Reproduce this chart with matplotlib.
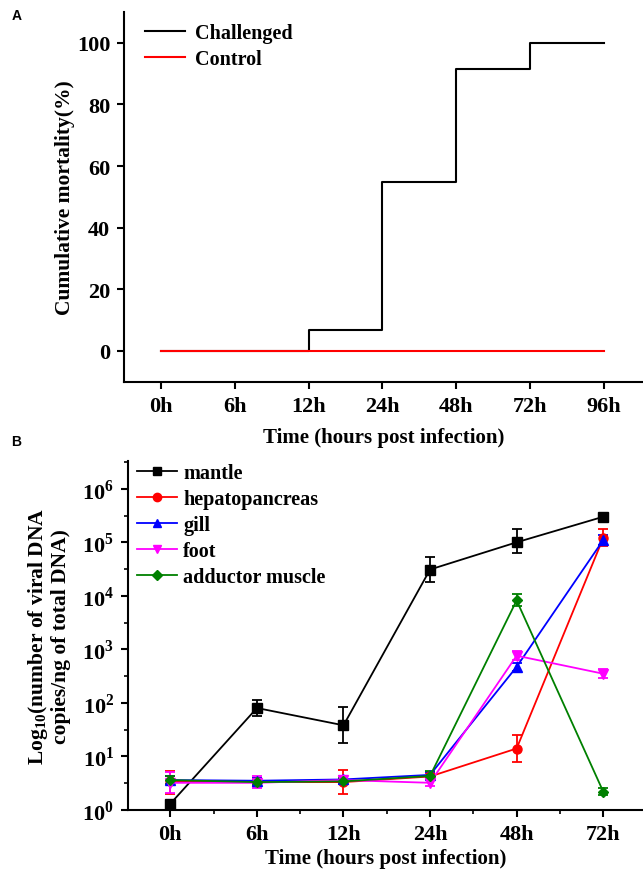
import numpy as np
import matplotlib
matplotlib.use("Agg")
import matplotlib.pyplot as plt
from matplotlib.lines import Line2D
from matplotlib.ticker import FixedLocator, FixedFormatter

plt.rcParams['font.family'] = ['Liberation Serif', 'DejaVu Serif']
plt.rcParams['font.weight'] = 'bold'
plt.rcParams['mathtext.fontset'] = 'custom'
plt.rcParams['mathtext.rm'] = 'Liberation Serif:bold'
plt.rcParams['mathtext.bf'] = 'Liberation Serif:bold'

## Panel A data: cumulative mortality
time_a = ['0h', '6h', '12h', '24h', '48h', '72h', '96h']
challenged = [0, 0, 6.67, 55, 91.67, 100, 100]
control = [0, 0, 0, 0, 0, 0, 0]

## Panel B data: viral DNA copies per ng total DNA
time_b = ['0h', '6h', '12h', '24h', '48h', '72h']
tissues = ['mantle', 'hepatopancreas', 'gill', 'foot', 'adductor muscle']
mantle = [1.3, 80, 38, 31000, 100000, 300000]
mantle_lo = [1.2, 56, 18, 18000, 62000, 280000]
mantle_hi = [1.45, 115, 85, 54000, 180000, 325000]
hepato = [3.4, 3.3, 3.3, 4.2, 14, 120000]
hepato_lo = [2.0, 2.8, 2.0, 3.7, 8, 85000]
hepato_hi = [5.4, 4.0, 5.5, 4.8, 25, 180000]
gill = [3.6, 3.5, 3.7, 4.5, 470, 110000]
gill_lo = [3.0, 3.0, 3.2, 4.0, 390, 90000]
gill_hi = [4.3, 4.0, 4.3, 5.1, 560, 135000]
foot = [3.2, 3.2, 3.6, 3.2, 760, 350]
foot_lo = [2.1, 2.6, 3.0, 2.8, 620, 290]
foot_hi = [5.0, 4.2, 4.3, 3.7, 950, 430]
adductor = [3.6, 3.3, 3.4, 4.3, 8200, 2.2]
adductor_lo = [3.1, 2.9, 3.0, 3.8, 6500, 1.9]
adductor_hi = [4.2, 3.8, 3.9, 5.4, 11000, 2.6]

fig = plt.figure(figsize=(6.43, 8.70), dpi=100)

# ---- Panel A ----
axA = fig.add_axes([0.193, 0.560, 0.807, 0.425])
xa = np.arange(len(time_a))
axA.step(xa, challenged, where='post', color='black', lw=1.5, label='Challenged')
axA.plot(xa, control, color='red', lw=1.5, label='Control')
axA.set_xlim(-0.5, 6.53)
axA.set_ylim(-10, 110)
axA.set_xticks(xa)
axA.set_xticklabels(time_a)
axA.set_yticks([0, 20, 40, 60, 80, 100])
axA.spines['top'].set_visible(False)
axA.spines['right'].set_visible(False)
for s in ['left', 'bottom']:
    axA.spines[s].set_linewidth(1.5)
axA.tick_params(direction='out', length=5, width=1.5, labelsize=16, pad=5)
axA.set_xlabel('Time (hours post infection)', fontsize=15, fontweight='bold', labelpad=8)
axA.set_ylabel('Cumulative mortality(%)', fontsize=15.5, fontweight='bold', labelpad=1)
axA.legend(loc='upper left', bbox_to_anchor=(0.005, 1.02), frameon=False, fontsize=14.5,
           handlelength=2.0, handletextpad=0.5, labelspacing=0.3)
fig.text(0.018, 0.977, 'A', fontsize=10, fontweight='bold', family='Liberation Sans')

# ---- Panel B ----
axB = fig.add_axes([0.199, 0.068, 0.801, 0.401])
xb = np.arange(len(time_b))
series = [(mantle, mantle_lo, mantle_hi, 'black', 's'),
          (hepato, hepato_lo, hepato_hi, 'red', 'o'),
          (gill, gill_lo, gill_hi, 'blue', '^'),
          (foot, foot_lo, foot_hi, 'magenta', 'v'),
          (adductor, adductor_lo, adductor_hi, 'green', 'D')]
handles = []
for name, (vals, lo, hi, col, mk) in zip(tissues, series):
    vals = np.array(vals)
    err = [vals - np.array(lo), np.array(hi) - vals]
    ms = 5.5 if mk == 'D' else 6.5
    axB.errorbar(xb, vals, yerr=err, color=col, marker=mk, ms=ms, lw=1.3,
                 capsize=3.5, capthick=1.3, elinewidth=1.3)
    handles.append(Line2D([], [], color=col, marker=mk, ms=ms - 0.5, lw=1.3, label=name))
axB.set_yscale('log')
axB.set_ylim(1, 10 ** 6.52)
axB.set_xlim(-0.49, 5.46)
axB.set_xticks(xb)
axB.set_xticklabels(time_b)
axB.xaxis.set_minor_locator(FixedLocator(xb[:-1] + 0.5))
axB.set_yticks([10 ** k for k in range(7)])
axB.yaxis.set_major_formatter(FixedFormatter(['$10^{%d}$' % k for k in range(7)]))
axB.yaxis.set_minor_locator(FixedLocator([10 ** (k + 0.5) for k in range(7)]))
axB.yaxis.set_minor_formatter(FixedFormatter([''] * 7))
axB.spines['top'].set_visible(False)
axB.spines['right'].set_visible(False)
for s in ['left', 'bottom']:
    axB.spines[s].set_linewidth(1.5)
axB.tick_params(which='major', direction='out', length=5, width=1.5, labelsize=16, pad=5)
axB.tick_params(which='minor', direction='out', length=3, width=1.2)
axB.set_xlabel('Time (hours post infection)', fontsize=15, fontweight='bold', labelpad=3)
axB.set_ylabel('Log$_{10}$(number of viral DNA\ncopies/ng of total DNA)', fontsize=15.5,
               fontweight='bold', labelpad=8, linespacing=1.05)
axB.legend(handles=handles, loc='upper left', bbox_to_anchor=(-0.018, 1.047), frameon=False,
           fontsize=14.5, handlelength=2.0, handletextpad=0.3, labelspacing=0.3)
fig.text(0.018, 0.487, 'B', fontsize=10, fontweight='bold', family='Liberation Sans')

fig.savefig('out.png', dpi=100)
